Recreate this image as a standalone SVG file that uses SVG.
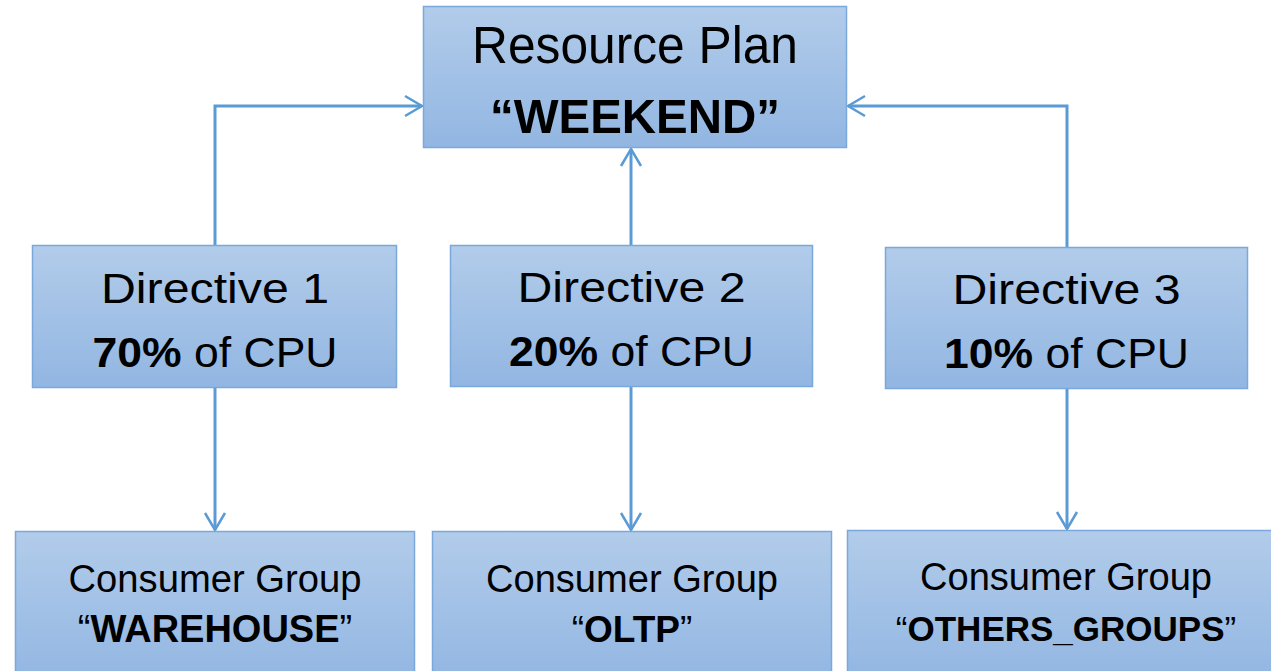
<svg xmlns="http://www.w3.org/2000/svg" width="1271" height="671" viewBox="0 0 1271 671">
  <defs>
    <linearGradient id="boxFill" x1="0" y1="0" x2="0" y2="1">
      <stop offset="0" stop-color="#B2CCEA"/>
      <stop offset="1" stop-color="#92B6E2"/>
    </linearGradient>
    <marker id="openArrow" viewBox="0 0 20 24" refX="18.5" refY="12" markerWidth="20" markerHeight="24" markerUnits="userSpaceOnUse" orient="auto">
      <polyline points="1.5,2 18.5,12 1.5,22" fill="none" stroke="#5B9BD5" stroke-width="2.5"/>
    </marker>
    <style>
      .box { fill: url(#boxFill); stroke: #7AA8DC; stroke-width: 1.5; }
      .t { font-family: "Liberation Sans", Arial, sans-serif; fill: #000; text-anchor: middle; }
      .b { font-weight: bold; }
      .conn { fill: none; stroke: #5B9BD5; stroke-width: 3; marker-end: url(#openArrow); }
    </style>
  </defs>

  <g id="connectors">
    <polyline class="conn" points="215,245 215,106 422,106"/>
    <polyline class="conn" points="631,245 631,149"/>
    <polyline class="conn" points="1067,247 1067,106 848,106"/>
    <polyline class="conn" points="215,388 215,530"/>
    <polyline class="conn" points="631,387 631,530"/>
    <polyline class="conn" points="1067,389 1067,529"/>
  </g>

  <g id="plan-weekend">
    <rect class="box" x="423.5" y="6.5" width="423" height="141"/>
    <text class="t" x="635" y="63" font-size="51" textLength="326" lengthAdjust="spacingAndGlyphs">Resource Plan</text>
    <text class="t b" x="635" y="133" font-size="49" textLength="290" lengthAdjust="spacingAndGlyphs">“WEEKEND”</text>
  </g>

  <g id="directive-1">
    <rect class="box" x="32.5" y="245.5" width="364" height="142"/>
    <text class="t" x="215" y="303" font-size="43" textLength="228" lengthAdjust="spacingAndGlyphs">Directive 1</text>
    <text class="t" x="215" y="367" font-size="43" textLength="245" lengthAdjust="spacingAndGlyphs"><tspan class="b">70%</tspan> of CPU</text>
  </g>

  <g id="directive-2">
    <rect class="box" x="450.5" y="245.5" width="362" height="141"/>
    <text class="t" x="631.5" y="302" font-size="43" textLength="228" lengthAdjust="spacingAndGlyphs">Directive 2</text>
    <text class="t" x="631.5" y="366" font-size="43" textLength="245" lengthAdjust="spacingAndGlyphs"><tspan class="b">20%</tspan> of CPU</text>
  </g>

  <g id="directive-3">
    <rect class="box" x="885.5" y="247.5" width="362" height="141"/>
    <text class="t" x="1066.5" y="304" font-size="43" textLength="228" lengthAdjust="spacingAndGlyphs">Directive 3</text>
    <text class="t" x="1066.5" y="368" font-size="43" textLength="245" lengthAdjust="spacingAndGlyphs"><tspan class="b">10%</tspan> of CPU</text>
  </g>

  <g id="group-warehouse">
    <rect class="box" x="15.5" y="531.5" width="399" height="150"/>
    <text class="t" x="215" y="592" font-size="38" textLength="293" lengthAdjust="spacingAndGlyphs">Consumer Group</text>
    <text class="t" x="215" y="642" font-size="38">“<tspan class="b">WAREHOUSE</tspan>”</text>
  </g>

  <g id="group-oltp">
    <rect class="box" x="432.5" y="531.5" width="399" height="150"/>
    <text class="t" x="632" y="592" font-size="38" textLength="292" lengthAdjust="spacingAndGlyphs">Consumer Group</text>
    <text class="t" x="632" y="642" font-size="37">“<tspan class="b">OLTP</tspan>”</text>
  </g>

  <g id="group-others">
    <rect class="box" x="847.5" y="530.5" width="440" height="150"/>
    <text class="t" x="1066" y="590" font-size="38" textLength="292" lengthAdjust="spacingAndGlyphs">Consumer Group</text>
    <text class="t" x="1066" y="641" font-size="35">“<tspan class="b">OTHERS_GROUPS</tspan>”</text>
  </g>
</svg>
